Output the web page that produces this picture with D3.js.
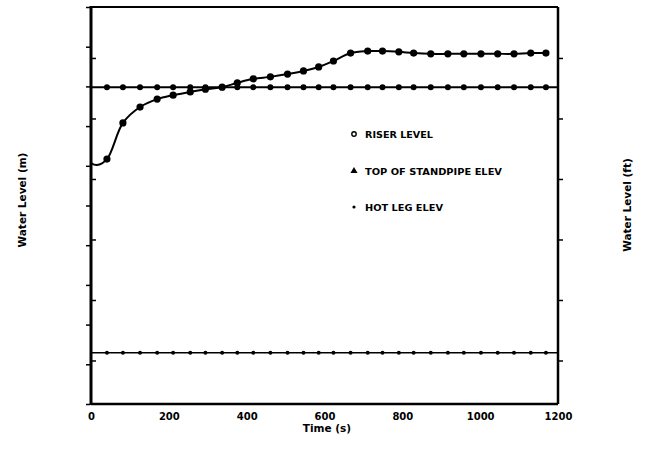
<!DOCTYPE html>
<html><head><meta charset="utf-8">
<script src="https://cdn.jsdelivr.net/npm/d3@7"></script>
<style>body{margin:0;background:#fff}svg{display:block}</style>
</head><body>
<svg id="c" width="646" height="451"></svg>
<script>
// ---- data ----
const markerTimes = [41,82,126,170,211,255,294,337,376,417,461,505,546,585,623,667,711,749,791,829,873,917,958,1002,1045,1087,1130,1169];
const riserStart = [[0,11.07],[15,11.02]];
const riserLevel = [11.17,12.08,12.48,12.68,12.78,12.86,12.93,12.98,13.09,13.19,13.24,13.31,13.39,13.49,13.64,13.84,13.89,13.89,13.87,13.84,13.82,13.82,13.82,13.82,13.82,13.82,13.84,13.84];
const standpipeElev = 12.98;
const hotLegElev = 6.29;
const xTicks = [0,200,400,600,800,1000,1200];
const mTicks = [5,6,7,8,9,10,11,12,13,14,15];
const ftTicks = [20,25,30,35,40,45];
const legendLabels = ["RISER LEVEL","TOP OF STANDPIPE ELEV","HOT LEG ELEV"];

// ---- layout ----
const L=91, R=558, T=7, B=404;
const svg = d3.select("#c");
const x = d3.scaleLinear().domain([0,1200]).range([L,R]);
const y = d3.scaleLinear().domain([5,15]).range([B,T]);
const yft = d3.scaleLinear().domain([5/0.3048,15/0.3048]).range([B,T]);
const font = "'DejaVu Sans', sans-serif";

// lines
const line = d3.line().x(d=>x(d[0])).y(d=>y(d[1]));
const riserPts = riserStart.concat(markerTimes.map((t,i)=>[t,riserLevel[i]]));
svg.append("path").attr("d", line.curve(d3.curveCatmullRom)(riserPts))
  .attr("fill","none").attr("stroke","#000").attr("stroke-width",2);
const flat = v => [[0,v]].concat(markerTimes.map(t=>[t,v])).concat([[1200,v]]);
svg.append("path").attr("d", d3.line().x(d=>x(d[0])).y(d=>y(d[1]))(flat(standpipeElev)))
  .attr("fill","none").attr("stroke","#000").attr("stroke-width",2);
svg.append("path").attr("d", d3.line().x(d=>x(d[0])).y(d=>y(d[1]))(flat(hotLegElev)))
  .attr("fill","none").attr("stroke","#000").attr("stroke-width",1.6);

// markers
svg.append("g").selectAll("circle").data(markerTimes).join("circle")
  .attr("cx",d=>x(d)).attr("cy",y(standpipeElev)).attr("r",3).attr("fill","#000");
svg.append("g").selectAll("circle").data(markerTimes).join("circle")
  .attr("cx",d=>x(d)).attr("cy",y(hotLegElev)).attr("r",2).attr("fill","#000");
svg.append("g").selectAll("circle").data(markerTimes).join("circle")
  .attr("cx",d=>x(d)).attr("cy",(d,i)=>y(riserLevel[i])).attr("r",3.6).attr("fill","#000");

// frame
svg.append("line").attr("x1",L).attr("x2",R).attr("y1",T).attr("y2",T).attr("stroke","#000").attr("stroke-width",2);
svg.append("line").attr("x1",R).attr("x2",R).attr("y1",T).attr("y2",B).attr("stroke","#000").attr("stroke-width",2.5);
svg.append("line").attr("x1",L).attr("x2",R).attr("y1",B).attr("y2",B).attr("stroke","#000").attr("stroke-width",2.5);
svg.append("line").attr("x1",L).attr("x2",L).attr("y1",T-1).attr("y2",B+1).attr("stroke","#000").attr("stroke-width",3);

// axes ticks
const gmL = svg.append("g").attr("transform",`translate(${L-1},0)`)
  .call(d3.axisLeft(y).tickValues(mTicks).tickSize(4).tickFormat(""));
const gfL = svg.append("g").attr("transform",`translate(${L+1},0)`)
  .call(d3.axisRight(yft).tickValues(ftTicks).tickSize(4).tickFormat(""));
const gfR = svg.append("g").attr("transform",`translate(${R+1},0)`)
  .call(d3.axisRight(yft).tickValues(ftTicks).tickSize(4).tickFormat(""));
const gx = svg.append("g").attr("transform",`translate(0,${B})`)
  .call(d3.axisBottom(x).tickValues(xTicks).tickSize(0).tickPadding(9).tickFormat(d3.format("d")));
[gmL,gfL,gfR,gx].forEach(g=>{g.select(".domain").remove();g.selectAll("line").attr("stroke","#000").attr("stroke-width",1.5);});
gx.selectAll("text").attr("font-family",font).attr("font-weight","bold").attr("font-size",10).attr("fill","#000");

// axis titles
svg.append("text").attr("x",327).attr("y",432).attr("text-anchor","middle")
  .attr("font-family",font).attr("font-weight","bold").attr("font-size",10.5).text("Time (s)");
svg.append("text").attr("transform","translate(26,200) rotate(-90)").attr("text-anchor","middle")
  .attr("font-family",font).attr("font-weight","bold").attr("font-size",10.5).text("Water Level (m)");
svg.append("text").attr("transform","translate(631,205) rotate(-90)").attr("text-anchor","middle")
  .attr("font-family",font).attr("font-weight","bold").attr("font-size",10.5).text("Water Level (ft)");

// legend
const legY = [134,171,207], legW=[68,137,78];
const lg = svg.append("g");
legendLabels.forEach((lab,i)=>{
  lg.append("text").attr("x",365).attr("y",legY[i]+3.5).attr("font-family",font).attr("font-weight","bold")
    .attr("font-size",9.5).attr("textLength",legW[i]).attr("lengthAdjust","spacingAndGlyphs").text(lab);
});
lg.append("circle").attr("cx",354).attr("cy",legY[0]).attr("r",2.2).attr("fill","#fff").attr("stroke","#000").attr("stroke-width",1.4);
lg.append("path").attr("d",d3.symbol(d3.symbolTriangle,22)()).attr("transform",`translate(354,${legY[1]})`).attr("fill","#000");
lg.append("circle").attr("cx",354).attr("cy",legY[2]).attr("r",1.6).attr("fill","#000");
</script>
</body></html>
